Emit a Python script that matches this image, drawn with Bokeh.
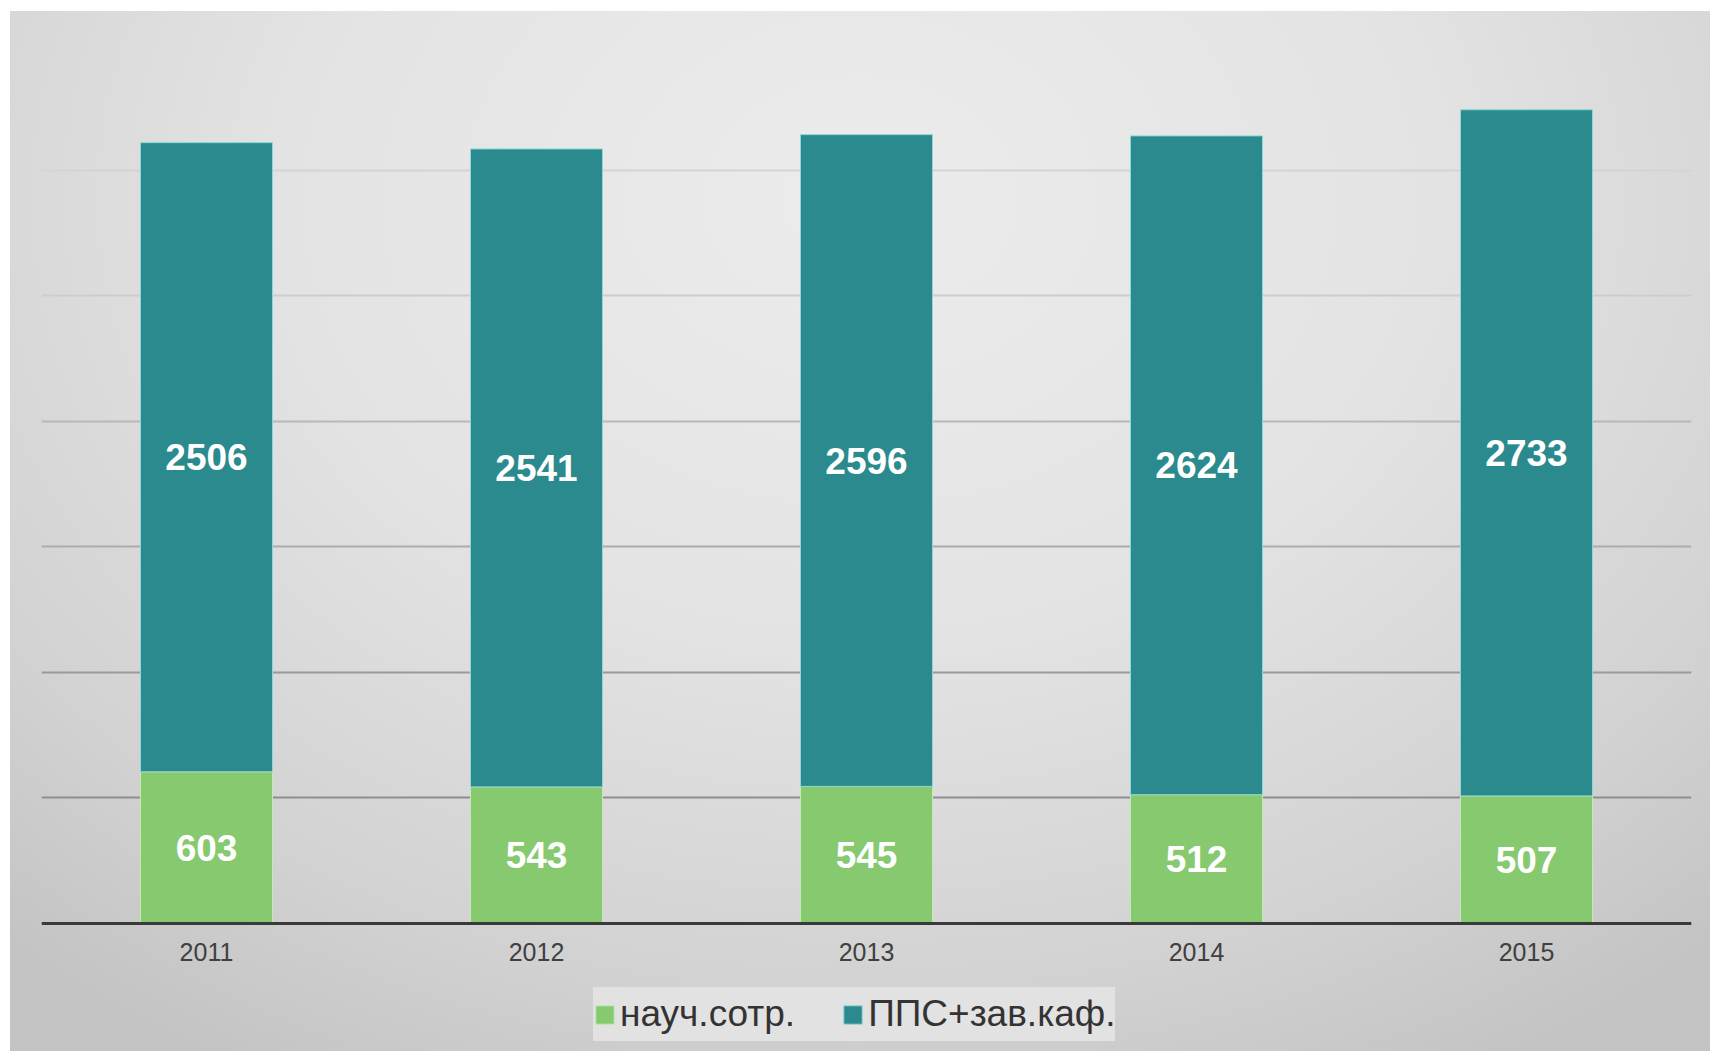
from bokeh.plotting import figure
from bokeh.models import ColumnDataSource, FactorRange, Legend, LegendItem, Grid, FixedTicker
from bokeh.core.properties import value
from bokeh.embed import file_html
from bokeh.resources import INLINE

years = ["2011", "2012", "2013", "2014", "2015"]
nauch = [603, 543, 545, 512, 507]
pps = [2506, 2541, 2596, 2624, 2733]
series_names = ["науч.сотр.", "ППС+зав.каф."]
grid_levels = [500, 1000, 1500, 2000, 2500, 3000, 3500]
grid_colors = ["#8e8e8e", "#9a9a9a", "#acacac", "#b8b8b8", "#cdcdcd", "#d4d4d4", "#d8d8d8"]

green = "#86c96f"
teal = "#2a8a8d"

src = ColumnDataSource(dict(
    year=years,
    nauch=nauch,
    pps=pps,
    nauch_mid=[v / 2 for v in nauch],
    pps_mid=[a + b / 2 for a, b in zip(nauch, pps)],
    nauch_txt=[str(v) for v in nauch],
    pps_txt=[str(v) for v in pps],
))

# frame extends below the zero line to hold the axis labels and legend
p = figure(x_range=FactorRange(*years), y_range=(-511, 3500),
           width=1700, height=1040, output_backend="svg", toolbar_location=None,
           min_border_left=31, min_border_right=19, min_border_top=33, min_border_bottom=0)
p.background_fill_alpha = 0
p.border_fill_alpha = 0
p.outline_line_color = None
p.styles = {"margin-left": "10px", "margin-top": "11px",
            "background-image": "radial-gradient(ellipse 75% 95% at 50% 18%, #ececec 0%, #e3e3e3 45%, #d2d2d2 80%, #c4c4c4 100%)"}

p.xgrid.visible = False
p.ygrid.visible = False
for lvl, col in zip(grid_levels, grid_colors):
    g = Grid(dimension=1, ticker=FixedTicker(ticks=[lvl]), grid_line_color=col, grid_line_width=2)
    p.add_layout(g)

rs = p.vbar_stack(["nauch", "pps"], x="year", width=0.4, source=src,
                  color=[green, teal], line_color=["#c4eab4", "#8fd6d6"], line_width=1)

for ycol, tcol in (("nauch_mid", "nauch_txt"), ("pps_mid", "pps_txt")):
    p.text(x="year", y=ycol, text=tcol, source=src, text_color="white",
           text_font=value("Liberation Sans"), text_font_style="bold", text_font_size="37px",
           text_align="center", text_baseline="middle")

p.yaxis.visible = False
xa = p.xaxis[0]
xa.fixed_location = 0
xa.axis_line_color = "#3a3a3a"
xa.axis_line_width = 3
xa.major_tick_line_color = None
xa.minor_tick_line_color = None
xa.major_label_text_font = "Liberation Sans"
xa.major_label_text_font_size = "25px"
xa.major_label_text_color = "#404040"
xa.major_label_standoff = 14

legend = Legend(items=[LegendItem(label=series_names[0], renderers=[rs[0]]),
                       LegendItem(label=series_names[1], renderers=[rs[1]])],
                orientation="horizontal", location=(552, 10))
legend.background_fill_color = "#e2e2e2"
legend.background_fill_alpha = 1
legend.border_line_color = None
legend.label_text_font = "Liberation Sans"
legend.label_text_font_size = "37px"
legend.label_text_color = "#333333"
legend.label_height = 54
legend.glyph_width = 23
legend.glyph_height = 23
legend.label_standoff = 4
legend.spacing = 46
legend.padding = 19
legend.margin = 0
p.add_layout(legend, "center")

open("out.html", "w").write(file_html(p, INLINE))
